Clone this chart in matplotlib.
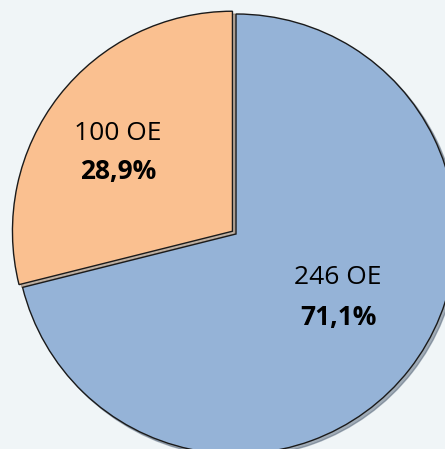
import matplotlib.pyplot as plt

# datos del grafico
categorias = ['246 OE', '100 OE']
valores = [246, 100]
colores = ['#95B3D7', '#FAC090']

fig = plt.figure(figsize=(4.45, 4.49), dpi=100)
fig.patch.set_facecolor('#F0F5F7')
ax = fig.add_axes([0, 0, 1, 1])
ax.set_facecolor('#F0F5F7')

# pie en coordenadas de pixel (centro y radio)
cx, cy, r = 236, 449 - 234, 220
wedges, _ = ax.pie(valores, colors=colores, startangle=90, counterclock=False,
                   explode=[0, 4.5], center=(cx, cy), radius=r,
                   wedgeprops={'edgecolor': '#1a1a1a', 'linewidth': 1.0},
                   shadow={'ox': 2, 'oy': -2, 'shade': 0.45})
ax.set_xlim(0, 445)
ax.set_ylim(0, 449)
ax.set_aspect('equal')
ax.axis('off')

total = sum(valores)
pos = [(338, 449 - 277, 449 - 317), (118, 449 - 134, 449 - 171)]
for cat, v, (x, y1, y2) in zip(categorias, valores, pos):
    pct = f"{100 * v / total:.1f}%".replace('.', ',')
    ax.text(x, y1, cat, ha='center', va='center', fontsize=19, family='Open Sans', color='black')
    ax.text(x, y2, pct, ha='center', va='center', fontsize=19, family='Open Sans',
            fontweight='bold', color='black')

fig.savefig('out.png', dpi=100, facecolor=fig.get_facecolor())
